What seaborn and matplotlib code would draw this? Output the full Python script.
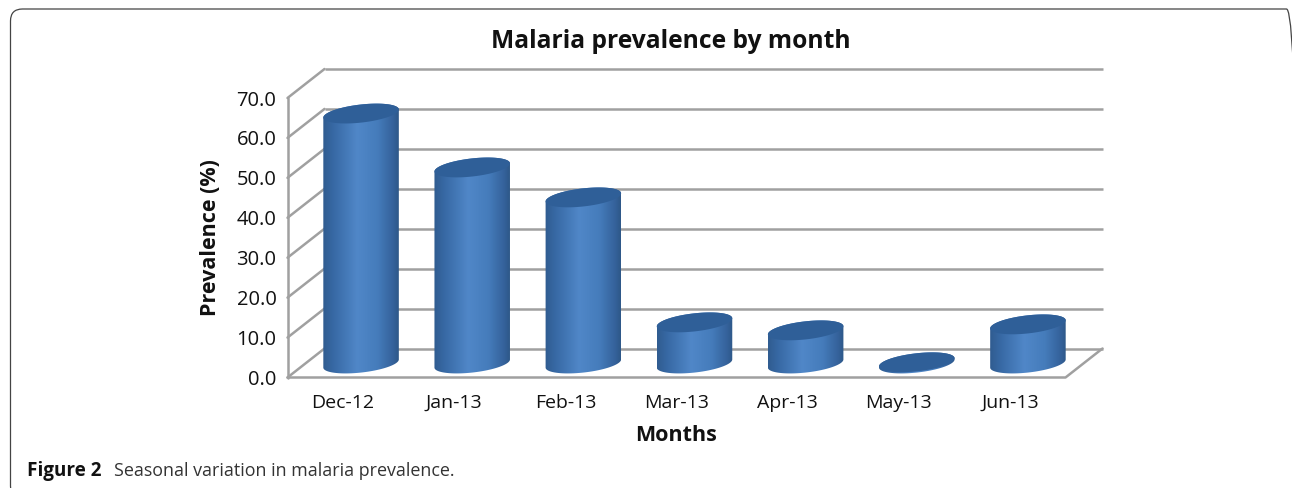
import numpy as np
import pandas as pd
import matplotlib
matplotlib.use("Agg")
import matplotlib.pyplot as plt
from matplotlib.colors import LinearSegmentedColormap
from matplotlib.patches import FancyBboxPatch, PathPatch
from matplotlib.path import Path
import seaborn as sns

months = ["Dec-12", "Jan-13", "Feb-13", "Mar-13", "Apr-13", "May-13", "Jun-13"]
prevalence = [62.6, 49.1, 41.6, 10.3, 8.3, 0.3, 9.8]
y_ticks = [0, 10, 20, 30, 40, 50, 60, 70]

W, H = 1292, 488
sns.set_theme(style="white")
plt.rcParams["font.family"] = ["Open Sans", "DejaVu Sans"]

fig = plt.figure(figsize=(W / 100, H / 100), dpi=100, facecolor="white")
L, R, T, B = 287.5, 1065.5, 98, 377.5
ax = fig.add_axes([L / W, 1 - B / H, (R - L) / W, (B - T) / H])

df = pd.DataFrame({"month": months, "prevalence": prevalence})
sns.barplot(data=df, x="month", y="prevalence", ax=ax, color="#3f72b0",
            width=0.685, errorbar=None, zorder=3)
ax.set_xlim(-0.5, 6.5)
ax.set_ylim(0, 70)

sx = (R - L) / 7          # pixels per category
sy = (B - T) / 70         # pixels per percentage point
depth_x, depth_y = 37 / sx, 29 / sy
off_x, off_y = 18 / sx, 14 / sy
grey = "#a0a0a0"
lw = 1.8

# 3D frame
for v in y_ticks:
    ax.plot([-0.5 + depth_x, 6.5 + depth_x], [v + depth_y] * 2, color=grey, lw=lw,
            clip_on=False, zorder=1, solid_capstyle="butt")
    ax.plot([-0.5, -0.5 + depth_x], [v, v + depth_y], color=grey, lw=lw,
            clip_on=False, zorder=1)
ax.plot([-0.5, -0.5], [0, 70], color=grey, lw=lw, clip_on=False, zorder=1)
ax.plot([-0.5, 6.5, 6.5 + depth_x], [0, 0, depth_y], color=grey, lw=lw,
        clip_on=False, zorder=1)

cmap = LinearSegmentedColormap.from_list(
    "cyl", [(0, "#305c90"), (0.15, "#386aa6"), (0.45, "#5087c8"),
            (0.72, "#457cbb"), (0.93, "#34619a"), (1, "#2e5888")])
grad = np.linspace(0, 1, 256).reshape(1, -1)
tilt = np.deg2rad(6.5)
a_px, b_px = 38.0, 9.0


def ell(cx, cy, t):
    px = a_px * np.cos(t) * np.cos(tilt) - b_px * np.sin(t) * np.sin(tilt)
    py = a_px * np.cos(t) * np.sin(tilt) + b_px * np.sin(t) * np.cos(tilt)
    return cx + px / sx, cy + py / sy


for bar in list(ax.patches):
    h = bar.get_height()
    cx = bar.get_x() + bar.get_width() / 2 + off_x
    bar.set_visible(False)
    t_low = np.linspace(np.pi, 2 * np.pi, 60)
    t_up = np.linspace(0, np.pi, 60)
    bx, by = ell(cx, off_y, t_low)
    tx, ty = ell(cx, off_y + h, t_up)
    verts = np.column_stack([np.r_[bx, tx], np.r_[by, ty]])
    verts = np.vstack([verts, verts[0]])
    codes = [Path.MOVETO] + [Path.LINETO] * (len(verts) - 2) + [Path.CLOSEPOLY]
    body = PathPatch(Path(verts, codes), fc="none", ec="none", transform=ax.transData)
    ax.add_patch(body)
    hw = a_px / sx
    im = ax.imshow(grad, cmap=cmap, aspect="auto", zorder=3,
                   extent=[cx - hw, cx + hw, off_y - 3, off_y + h + 3], clip_on=True)
    im.set_clip_path(body)
    t = np.linspace(0, 2 * np.pi, 120)
    ex, ey = ell(cx, off_y + h, t)
    ax.fill(ex, ey, color="#2f5f98", zorder=4, lw=0, clip_on=False)

ax.set_xlim(-0.5, 6.5)
ax.set_ylim(0, 70)
ax.set_aspect("auto")
for s in ax.spines.values():
    s.set_visible(False)
ax.patch.set_alpha(0)

ax.set_yticks(y_ticks)
ax.set_yticklabels([f"{v:.1f}" for v in y_ticks], fontsize=14.5, color="#111111")
ax.set_xticks(range(len(months)))
ax.set_xticklabels(months, fontsize=14, color="#111111")
ax.tick_params(axis="y", length=0, pad=8)
ax.tick_params(axis="x", length=0, pad=12)
ax.set_xlabel("Months", fontsize=15.5, fontweight="bold", color="#111111", labelpad=9)
ax.set_ylabel("Prevalence (%)", fontsize=15.5, fontweight="bold", color="#111111", labelpad=11)
fig.text(671 / W, 1 - 42 / H, "Malaria prevalence by month", fontsize=17.7, fontweight="bold",
         ha="center", va="center", color="#111111")

# Card outline and caption
card = FancyBboxPatch((10.5, -10), 1288, 489, boxstyle="round,pad=0,rounding_size=12",
                      transform=None, fc="none", ec="#444444", lw=0.9, clip_on=True)
fig.add_artist(card)
fig.text(27 / W, 1 - 476 / H, "Figure 2", fontsize=13.6, fontweight="bold",
         color="#111111", va="baseline")
fig.text(114 / W, 1 - 476 / H, "Seasonal variation in malaria prevalence.", fontsize=12.9,
         color="#333333", va="baseline")

fig.savefig("out.png", dpi=100, facecolor="white")
